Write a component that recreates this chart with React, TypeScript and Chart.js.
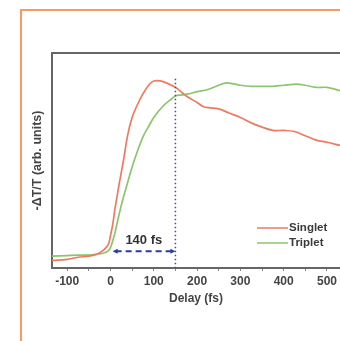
import React, { useEffect, useRef } from "react";
import { Chart, registerables } from "chart.js";

Chart.register(...registerables);

const singletDelays = [-135, -100, -75, -50, -30, -15, -5, 0, 5, 10, 15, 20, 30, 40, 50, 60, 75, 90, 100, 115, 130, 150, 175, 200, 215, 230, 250, 275, 300, 325, 350, 375, 400, 425, 450, 475, 500, 530];
const singletValues = [0.035, 0.04, 0.05, 0.055, 0.065, 0.085, 0.11, 0.15, 0.2, 0.27, 0.33, 0.39, 0.5, 0.62, 0.7, 0.75, 0.81, 0.855, 0.87, 0.87, 0.86, 0.84, 0.8, 0.77, 0.75, 0.745, 0.74, 0.72, 0.7, 0.675, 0.655, 0.64, 0.64, 0.635, 0.615, 0.595, 0.585, 0.57];

const tripletDelays = [-135, -100, -75, -50, -30, -15, -5, 0, 5, 10, 20, 30, 40, 50, 60, 75, 90, 100, 120, 140, 150, 165, 180, 200, 225, 250, 265, 275, 300, 325, 350, 375, 400, 430, 450, 475, 500, 530];
const tripletValues = [0.055, 0.058, 0.06, 0.06, 0.065, 0.07, 0.08, 0.095, 0.125, 0.16, 0.25, 0.33, 0.4, 0.47, 0.53, 0.61, 0.665, 0.7, 0.75, 0.785, 0.8, 0.805, 0.81, 0.82, 0.83, 0.85, 0.86, 0.86, 0.85, 0.845, 0.845, 0.845, 0.85, 0.855, 0.85, 0.84, 0.84, 0.825];

const seriesNames = ["Singlet", "Triplet"];
const seriesColors = ["#EF7A60", "#8CC56E"];

const xMin = -135;
const xMax = 530;
const xStep = 50;
const xLabelEvery = 100;

const markerDelay = 150;
const arrowStart = 5;
const arrowLevel = 0.078;
const markerTop = 0.88;
const intervalLabel = "140 fs";
const intervalLabelPos = { x: 77, y: 0.13 };

const xTitle = "Delay (fs)";
const yTitle = "-\u0394T/T (arb. units)";

const FONT = "'Liberation Sans', Arial, sans-serif";

const decorPlugin = {
  id: "decor",
  beforeDraw(chart: any) {
    const { ctx } = chart;
    ctx.save();
    ctx.strokeStyle = "#F79A66";
    ctx.lineWidth = 2;
    ctx.beginPath();
    ctx.moveTo(21, chart.height + 2);
    ctx.lineTo(21, 10);
    ctx.lineTo(chart.width + 2, 10);
    ctx.stroke();
    ctx.restore();
  },
  afterDatasetsDraw(chart: any) {
    const { ctx, chartArea } = chart;
    const xs = chart.scales.x;
    const ys = chart.scales.y;
    ctx.save();
    // top border of plot box
    ctx.strokeStyle = "#666";
    ctx.lineWidth = 2;
    ctx.beginPath();
    ctx.moveTo(chartArea.left - 1, chartArea.top);
    ctx.lineTo(chartArea.right + 2, chartArea.top);
    ctx.stroke();

    // dotted vertical marker
    const mx = xs.getPixelForValue(markerDelay);
    ctx.strokeStyle = "#3C4CA8";
    ctx.lineWidth = 1.5;
    ctx.setLineDash([1.5, 2.5]);
    ctx.beginPath();
    ctx.moveTo(mx, ys.getPixelForValue(markerTop));
    ctx.lineTo(mx, ys.getPixelForValue(0));
    ctx.stroke();

    // dashed arrow
    const ay = ys.getPixelForValue(arrowLevel);
    const ax1 = xs.getPixelForValue(arrowStart);
    const ax2 = mx;
    ctx.strokeStyle = "#2B3C9A";
    ctx.fillStyle = "#2B3C9A";
    ctx.lineWidth = 1.8;
    ctx.setLineDash([6, 4]);
    ctx.beginPath();
    ctx.moveTo(ax1 + 3, ay);
    ctx.lineTo(ax2 - 3, ay);
    ctx.stroke();
    ctx.setLineDash([]);
    ctx.beginPath();
    ctx.moveTo(ax1, ay);
    ctx.lineTo(ax1 + 5, ay - 2.5);
    ctx.lineTo(ax1 + 5, ay + 2.5);
    ctx.closePath();
    ctx.fill();
    ctx.beginPath();
    ctx.moveTo(ax2, ay);
    ctx.lineTo(ax2 - 5, ay - 2.5);
    ctx.lineTo(ax2 - 5, ay + 2.5);
    ctx.closePath();
    ctx.fill();

    // interval label
    ctx.fillStyle = "#333";
    ctx.font = `bold 13px ${FONT}`;
    ctx.textAlign = "center";
    ctx.textBaseline = "middle";
    ctx.fillText(intervalLabel, xs.getPixelForValue(intervalLabelPos.x), ys.getPixelForValue(intervalLabelPos.y));

    // legend
    const lx = 257;
    const ly = 228;
    chart.data.datasets.forEach((ds: any, i: number) => {
      const y = ly + i * 15;
      ctx.strokeStyle = ds.borderColor;
      ctx.lineWidth = 1.5;
      ctx.beginPath();
      ctx.moveTo(lx, y);
      ctx.lineTo(lx + 31, y);
      ctx.stroke();
      ctx.fillStyle = "#3a3a3a";
      ctx.font = `bold 11.5px ${FONT}`;
      ctx.textAlign = "left";
      ctx.textBaseline = "middle";
      ctx.fillText(ds.label, lx + 32, y);
    });
    ctx.restore();
  },
};

export default function App() {
  const ref = useRef<HTMLCanvasElement>(null);
  useEffect(() => {
    if (!ref.current) return;
    const chart = new Chart(ref.current, {
      type: "line",
      data: {
        datasets: [
          {
            label: seriesNames[0],
            data: singletDelays.map((d, i) => ({ x: d, y: singletValues[i] })),
            borderColor: seriesColors[0],
            borderWidth: 1.7,
            pointRadius: 0,
            tension: 0.35,
            fill: false,
          },
          {
            label: seriesNames[1],
            data: tripletDelays.map((d, i) => ({ x: d, y: tripletValues[i] })),
            borderColor: seriesColors[1],
            borderWidth: 1.7,
            pointRadius: 0,
            tension: 0.35,
            fill: false,
          },
        ],
      },
      options: {
        responsive: false,
        animation: false,
        layout: { padding: { left: 12, top: 53, right: 0, bottom: 0 } },
        plugins: { legend: { display: false }, tooltip: { enabled: false } },
        scales: {
          x: {
            type: "linear",
            min: xMin,
            max: xMax,
            afterFit: (s: any) => { s.height = 73; },
            ticks: {
              stepSize: xStep,
              includeBounds: false,
              autoSkip: false,
              maxRotation: 0,
              padding: 3,
              color: "#444",
              font: { family: FONT, size: 12, weight: "bold" },
              callback: (v: any) => (Number(v) % xLabelEvery === 0 ? String(v) : ""),
            },
            grid: { display: true, drawOnChartArea: false, drawTicks: true, tickLength: 3, color: "#888" },
            border: { display: true, color: "#666", width: 2 },
            title: {
              display: true,
              text: xTitle,
              color: "#444",
              font: { family: FONT, size: 12, weight: "bold" },
              padding: { top: 0, bottom: 35 },
            },
          },
          y: {
            min: 0,
            max: 1,
            afterFit: (s: any) => { s.width = 40; },
            ticks: { display: false },
            grid: { display: false },
            border: { display: true, color: "#666", width: 2 },
            title: {
              display: true,
              text: yTitle,
              color: "#444",
              font: { family: FONT, size: 12.5, weight: "bold" },
              padding: { top: 18, bottom: 0 },
            },
          },
        },
      },
      plugins: [decorPlugin],
    });
    return () => chart.destroy();
  }, []);
  return (
    <div style={{ position: "fixed", left: 0, top: 0, width: 340, height: 341, background: "#fff" }}>
      <canvas ref={ref} width={340} height={341} style={{ width: 340, height: 341, display: "block" }} />
    </div>
  );
}
